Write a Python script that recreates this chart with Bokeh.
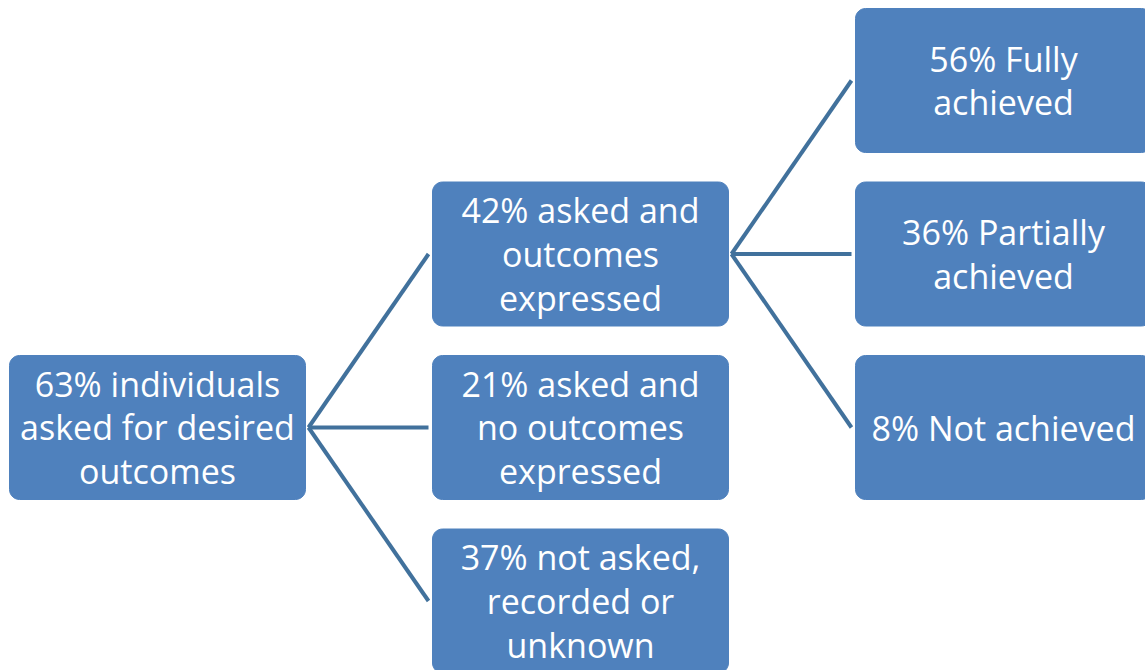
from bokeh.plotting import figure
from bokeh.models import Range1d
from bokeh.core.properties import value
from bokeh.embed import file_html
from bokeh.resources import INLINE
import numpy as np

# ---- data ----
root_label = "63% individuals\nasked for desired\noutcomes"
level1_labels = ["42% asked and\noutcomes\nexpressed",
                 "21% asked and\nno outcomes\nexpressed",
                 "37% not asked,\nrecorded or\nunknown"]
level2_labels = ["56% Fully\nachieved", "36% Partially\nachieved", "8% Not achieved"]
level2_parent = 0  # children of first level-1 node

# ---- layout (pixel-like coordinates) ----
BOX_W, BOX_H = 296, 144
COL_X = [9, 432, 855]
ROW_Y0, ROW_STEP = 80, 173.5
FILL = "#4F81BD"
LINE = "#41719C"
R = 10

def row_center(r):
    return ROW_Y0 + ROW_STEP * r

nodes = []  # (col, row, label)
nodes.append((0, 2, root_label))
for i, lab in enumerate(level1_labels):
    nodes.append((1, 1 + i, lab))
for i, lab in enumerate(level2_labels):
    nodes.append((2, i, lab))

p = figure(width=1145, height=670, output_backend="svg", toolbar_location=None,
           x_range=Range1d(0, 1145), y_range=Range1d(670, 0))
p.axis.visible = False
p.grid.visible = False
p.outline_line_color = None
p.min_border = 0
p.background_fill_color = "white"

def rounded(x0, y0, w, h, r, n=8):
    xs, ys = [], []
    corners = [(x0 + w - r, y0 + r, -90, 0), (x0 + w - r, y0 + h - r, 0, 90),
               (x0 + r, y0 + h - r, 90, 180), (x0 + r, y0 + r, 180, 270)]
    for cx, cy, a0, a1 in corners:
        for a in np.linspace(np.radians(a0), np.radians(a1), n):
            xs.append(cx + r * np.cos(a))
            ys.append(cy + r * np.sin(a))
    return xs, ys

# connectors
def connect(pc, pr, cc, cr):
    x0 = COL_X[pc] + BOX_W + 3
    y0 = row_center(pr)
    x1 = COL_X[cc] - 4
    y1 = row_center(cr)
    return [x0, x1], [y0, y1]

lx, ly = [], []
for i in range(len(level1_labels)):
    a, b = connect(0, 2, 1, 1 + i)
    lx.append(a); ly.append(b)
for i in range(len(level2_labels)):
    a, b = connect(1, 1 + level2_parent, 2, i)
    lx.append(a); ly.append(b)
p.multi_line(lx, ly, line_color=LINE, line_width=4)

bx, by = [], []
for col, row, lab in nodes:
    xs, ys = rounded(COL_X[col], row_center(row) - BOX_H / 2, BOX_W, BOX_H, R)
    bx.append(xs); by.append(ys)
p.patches(bx, by, fill_color=FILL, line_color=FILL, line_width=1)

tx = [COL_X[c] + BOX_W / 2 for c, r, l in nodes]
ty = [row_center(r) for c, r, l in nodes]
tl = [l for c, r, l in nodes]
p.text(tx, ty, text=tl, text_color="white", text_font=value("Open Sans"),
       text_font_size="34px", text_align="center", text_baseline="middle",
       text_line_height=0.95)

open("out.html", "w").write(file_html(p, INLINE))
